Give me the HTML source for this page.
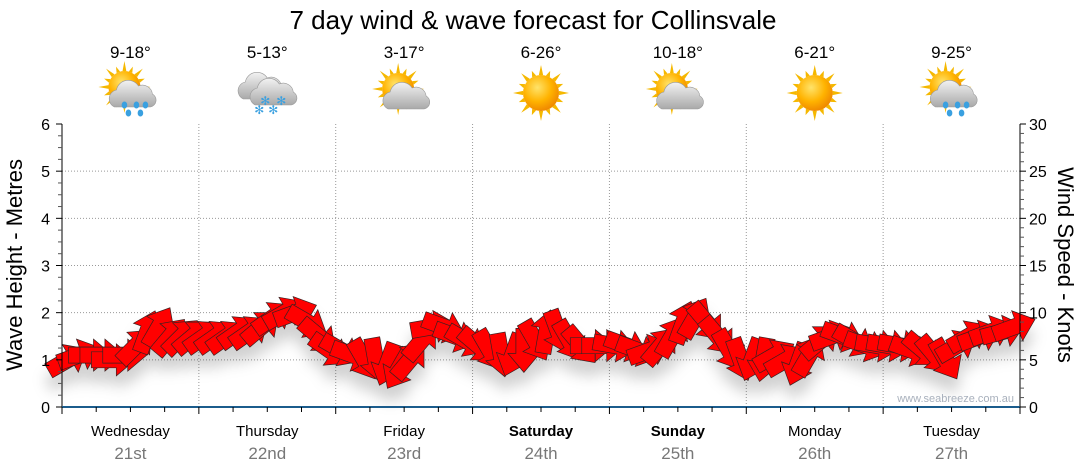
<!DOCTYPE html>
<html><head><meta charset="utf-8"><style>
html,body{margin:0;padding:0;background:#fff;}
svg{display:block;font-family:"Liberation Sans","DejaVu Sans",sans-serif;}
</style></head><body>
<svg id="chart" width="1080" height="475" viewBox="0 0 1080 475" xmlns="http://www.w3.org/2000/svg">
<defs>
<radialGradient id="sunG" cx="40%" cy="35%" r="65%"><stop offset="0" stop-color="#ffe36a"/><stop offset="0.6" stop-color="#ffb300"/><stop offset="1" stop-color="#f08a00"/></radialGradient>
<linearGradient id="cloudG" x1="0" y1="0" x2="0" y2="1"><stop offset="0" stop-color="#f2f2f2"/><stop offset="1" stop-color="#a9a9a9"/></linearGradient>
<filter id="shadow" x="-10%" y="-50%" width="120%" height="250%"><feDropShadow dx="0" dy="14" stdDeviation="7" flood-color="#000" flood-opacity="0.18"/></filter>
</defs>
<text x="533" y="29" font-size="26" text-anchor="middle" fill="#000">7 day wind &amp; wave forecast for Collinsvale</text>
<g id="grid"></g>
<g id="icons"></g>
<g id="arrows" filter="url(#shadow)"></g>
<g id="axes"></g>
<text transform="translate(22,265) rotate(-90)" font-size="22" text-anchor="middle">Wave Height - Metres</text>
<text transform="translate(1058,265) rotate(90)" font-size="22" text-anchor="middle">Wind Speed - Knots</text>
<text x="1014" y="402" font-size="11" fill="#a8b0bc" text-anchor="end">www.seabreeze.com.au</text>
</svg>
<script>
const days = ["Wednesday","Thursday","Friday","Saturday","Sunday","Monday","Tuesday"];
const dates = ["21st","22nd","23rd","24th","25th","26th","27th"];
const temps = ["9-18°","5-13°","3-17°","6-26°","10-18°","6-21°","9-25°"];
const icons = ["sunrain","snow","suncloud","sun","suncloud","sun","sunrain"];
const boldDays = [false,false,false,true,true,false,false];
const waveTicks = [0,1,2,3,4,5,6];
const windTicks = [0,5,10,15,20,25,30];
const windSpeed = [
5,5.5,5.5,5.5,5,5.5,6.5,8,8.5,7.5,7.5,7.5,
7.5,7.5,7.5,8,8,8.5,9.5,10,10,9,7.5,6,
6,5.5,5,5,4.5,4,5,7,8.5,8.5,7.5,7,
6.5,6,5.5,5.5,6,7,8,8,7,6.5,6.5,6.5,
6.5,6.5,6,6,6.5,7.5,9,9.5,9,7.5,6,5,
5,5,5.5,5,4.5,5.5,7,7.5,7.5,7,6.5,6.5,
6.5,6.5,6,6,5.5,5,6.5,7.5,7.5,8,8,8.5];
const windBearing = [
60,70,90,90,90,90,45,20,30,40,45,50,
55,55,55,55,55,50,55,60,70,120,130,125,
120,110,150,170,200,210,40,40,80,110,110,120,
130,150,170,200,180,150,10,160,150,140,90,90,
100,110,110,70,40,30,20,30,140,140,150,160,
200,190,60,60,200,30,50,70,110,120,110,100,
100,100,110,130,140,150,60,60,70,70,75,70];

const NS="http://www.w3.org/2000/svg";
const X0=62,X1=1020,Y0=407,Y1=124;
const dayW=(X1-X0)/7;
const xDay=d=>X0+d*dayW;
const yWave=v=>Y0-(v/6)*(Y0-Y1);
const yWind=v=>Y0-(v/30)*(Y0-Y1);
const xIdx=i=>X0+(i+0.5)*(X1-X0)/windSpeed.length;
function mk(tag,attrs,parent){const e=document.createElementNS(NS,tag);for(const k in attrs)e.setAttribute(k,attrs[k]);parent.appendChild(e);return e;}
const grid=document.getElementById('grid'),axes=document.getElementById('axes'),ic=document.getElementById('icons'),ar=document.getElementById('arrows');

waveTicks.forEach(v=>{if(v>0&&v<6){const l=mk('line',{x1:X0,x2:X1,y1:yWave(v),y2:yWave(v),stroke:'#999','stroke-dasharray':'1,2'},grid);

}});
for(let d=1;d<7;d++){const l=mk('line',{x1:xDay(d),x2:xDay(d),y1:Y1,y2:Y0,stroke:'#999','stroke-dasharray':'1,2'},grid);

}

mk('line',{x1:X0,x2:X0,y1:Y1,y2:Y0,stroke:'#000'},axes);
mk('line',{x1:X1,x2:X1,y1:Y1,y2:Y0,stroke:'#000'},axes);
for(let m=0;m<=24;m++){const y=yWave(m/4);mk('line',{x1:X0-(m%4?4:6),x2:X0,y1:y,y2:y,stroke:m%4?'#555':'#000'},axes);}
for(let k=0;k<=30;k++){const y=yWind(k);mk('line',{x1:X1,x2:X1+(k%5?4:6),y1:y,y2:y,stroke:k%5?'#555':'#000'},axes);}
waveTicks.forEach(v=>{const t=mk('text',{x:X0-12,y:yWave(v)+6,'font-size':16,'text-anchor':'end'},axes);t.textContent=v;

});
windTicks.forEach(v=>{const t=mk('text',{x:X1+9,y:yWind(v)+6,'font-size':16},axes);t.textContent=v;

});
mk('line',{x1:X0,x2:X1,y1:Y0,y2:Y0,stroke:'#1b5c8c','stroke-width':2},axes);
for(let h=0;h<=28;h++){const x=X0+h*dayW/4;mk('line',{x1:x,x2:x,y1:Y0,y2:Y0+(h%4?5:7),stroke:'#000'},axes);}
days.forEach((d,i)=>{const cx=xDay(i)+dayW/2;
const t=mk('text',{x:cx,y:436,'font-size':15,'text-anchor':'middle','font-weight':boldDays[i]?'bold':'normal'},axes);t.textContent=d;


const t2=mk('text',{x:cx,y:459,'font-size':17,'text-anchor':'middle',fill:'#777'},axes);t2.textContent=dates[i];


const t3=mk('text',{x:cx,y:58,'font-size':17,'text-anchor':'middle'},ic);t3.textContent=temps[i];


drawIcon(icons[i],cx,95);});

function sun(g,x,y,r){for(let a=0;a<16;a++){const an=a*Math.PI/8,L=a%2?r+6:r+10;
mk('polygon',{points:`${x+Math.cos(an-0.12)*r},${y+Math.sin(an-0.12)*r} ${x+Math.cos(an)*L},${y+Math.sin(an)*L} ${x+Math.cos(an+0.12)*r},${y+Math.sin(an+0.12)*r}`,fill:'#f5b800'},g);}
mk('circle',{cx:x,cy:y,r:r,fill:'url(#sunG)'},g);}
function cloud(g,x,y,s){mk('path',{d:`M${x-18*s},${y+10*s} a9,9 0 0 1 2,-17 a12,12 0 0 1 22,-4 a10,10 0 0 1 14,8 a7,7 0 0 1 -2,13 z`,fill:'url(#cloudG)',stroke:'#999','stroke-width':0.6},g);}
function drop(g,x,y){mk('ellipse',{cx:x,cy:y,rx:2.8,ry:3.5,fill:'#3aa0e0'},g);}
function flake(g,x,y){mk('text',{x:x,y:y+4,'font-size':12,'text-anchor':'middle',fill:'#3aa0e0'},g).textContent='✻';}
function drawIcon(type,x,y){const g=mk('g',{},ic);


if(type==='sun'){sun(g,x,y-2,18);}
else if(type==='suncloud'){sun(g,x-6,y-6,16);cloud(g,x+2,y+4,1);}
else if(type==='sunrain'){sun(g,x-6,y-8,16);cloud(g,x+2,y+2,1);drop(g,x-6,y+10);drop(g,x+6,y+10);drop(g,x+15,y+10);drop(g,x-2,y+18);drop(g,x+10,y+18);}
else if(type==='snow'){cloud(g,x-6,y-6,1);cloud(g,x+6,y,1);flake(g,x-2,y+6);flake(g,x+14,y+6);flake(g,x-8,y+15);flake(g,x+6,y+15);}}

windSpeed.forEach((v,i)=>{const x=xIdx(i),y=yWind(v),rot=windBearing[i]-90;
const p=mk('path',{d:'M-22,-8 L3,-8 L3,-16 L22,0 L3,16 L3,8 L-22,8 Z',fill:'#ff0000',stroke:'#3a2020','stroke-width':0.7,transform:`translate(${x},${y}) rotate(${rot})`},ar);

});
</script>
</body></html>
